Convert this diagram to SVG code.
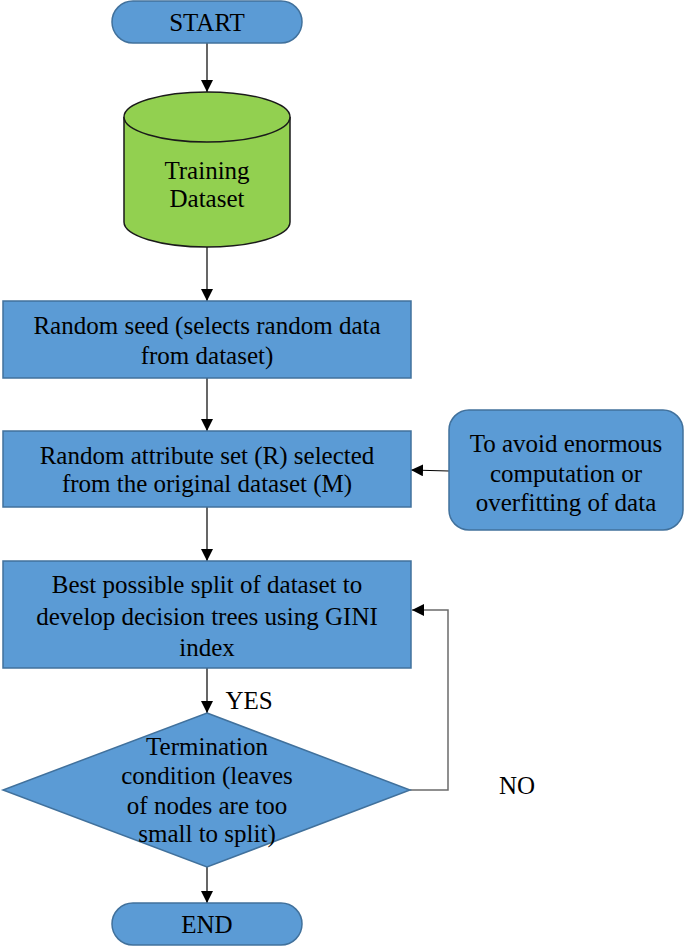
<svg xmlns="http://www.w3.org/2000/svg" width="685" height="948" viewBox="0 0 685 948">
<defs>
<marker id="arr" markerWidth="12" markerHeight="12" viewBox="0 0 12 12" refX="12" refY="6" orient="auto" markerUnits="userSpaceOnUse">
<path d="M0,0 L12,6 L0,12 Z" fill="#000"/>
</marker>
<style>
.blue{fill:#5B9BD5;stroke:#41719C;stroke-width:1.5}
.green{fill:#92D050;stroke:#1a1a1a;stroke-width:1.5}
.t{font-family:"Liberation Serif","Times New Roman","DejaVu Serif",serif;font-size:25px;fill:#000;text-anchor:middle}
.c{fill:none;stroke:#000;stroke-width:1.2}
.g{fill:none;stroke:#6b6b6b;stroke-width:1.5}
</style>
</defs>
<rect width="685" height="948" fill="#fff"/>
<g id="connectors">
<line class="c" x1="207" y1="43" x2="207" y2="92" marker-end="url(#arr)"/>
<line class="c" x1="207" y1="247" x2="207" y2="301" marker-end="url(#arr)"/>
<line class="c" x1="207" y1="378" x2="207" y2="431" marker-end="url(#arr)"/>
<line class="c" x1="449" y1="471" x2="411" y2="470" marker-end="url(#arr)"/>
<line class="c" x1="207" y1="507" x2="207" y2="561" marker-end="url(#arr)"/>
<line class="c" x1="207" y1="668" x2="207" y2="713" marker-end="url(#arr)"/>
<polyline class="g" points="410,790 448,790 448,610 412,610" marker-end="url(#arr)"/>
<line class="c" x1="207" y1="867" x2="207" y2="903" marker-end="url(#arr)"/>
<text class="t" x="249" y="709">YES</text>
<text class="t" x="517" y="794">NO</text>
</g>
<g id="start">
<rect class="blue" x="112" y="1" width="190" height="42" rx="21" ry="21"/>
<text class="t" x="207" y="31">START</text>
</g>
<g id="training">
<path class="green" d="M124,117 L124,222 A83,25 0 0 0 290,222 L290,117 A83,25 0 0 0 124,117 Z"/>
<path class="green" d="M124,117 A83,25 0 0 0 290,117"/>
<text class="t" x="207" y="179">Training</text>
<text class="t" x="207" y="207">Dataset</text>
</g>
<g id="random-seed">
<rect class="blue" x="3" y="301" width="408" height="77"/>
<text class="t" x="207" y="334">Random seed (selects random data</text>
<text class="t" x="207" y="364">from dataset)</text>
</g>
<g id="random-attr">
<rect class="blue" x="3" y="431" width="408" height="76"/>
<text class="t" x="207" y="464">Random attribute set (R) selected</text>
<text class="t" x="207" y="492">from the original dataset (M)</text>
</g>
<g id="avoid">
<rect class="blue" x="449" y="410" width="234" height="120" rx="20" ry="20"/>
<text class="t" x="566" y="452">To avoid enormous</text>
<text class="t" x="566" y="482">computation or</text>
<text class="t" x="566" y="511">overfitting of data</text>
</g>
<g id="best-split">
<rect class="blue" x="3" y="561" width="408" height="107"/>
<text class="t" x="207" y="593">Best possible split of dataset to</text>
<text class="t" x="207" y="625">develop decision trees using GINI</text>
<text class="t" x="207" y="656">index</text>
</g>
<g id="termination">
<polygon class="blue" points="207,713 410,790 207,867 3,790"/>
<text class="t" x="207" y="755">Termination</text>
<text class="t" x="207" y="784">condition (leaves</text>
<text class="t" x="207" y="814">of nodes are too</text>
<text class="t" x="207" y="842">small to split)</text>
</g>
<g id="end">
<rect class="blue" x="112" y="903" width="190" height="42" rx="21" ry="21"/>
<text class="t" x="207" y="933">END</text>
</g>
</svg>
